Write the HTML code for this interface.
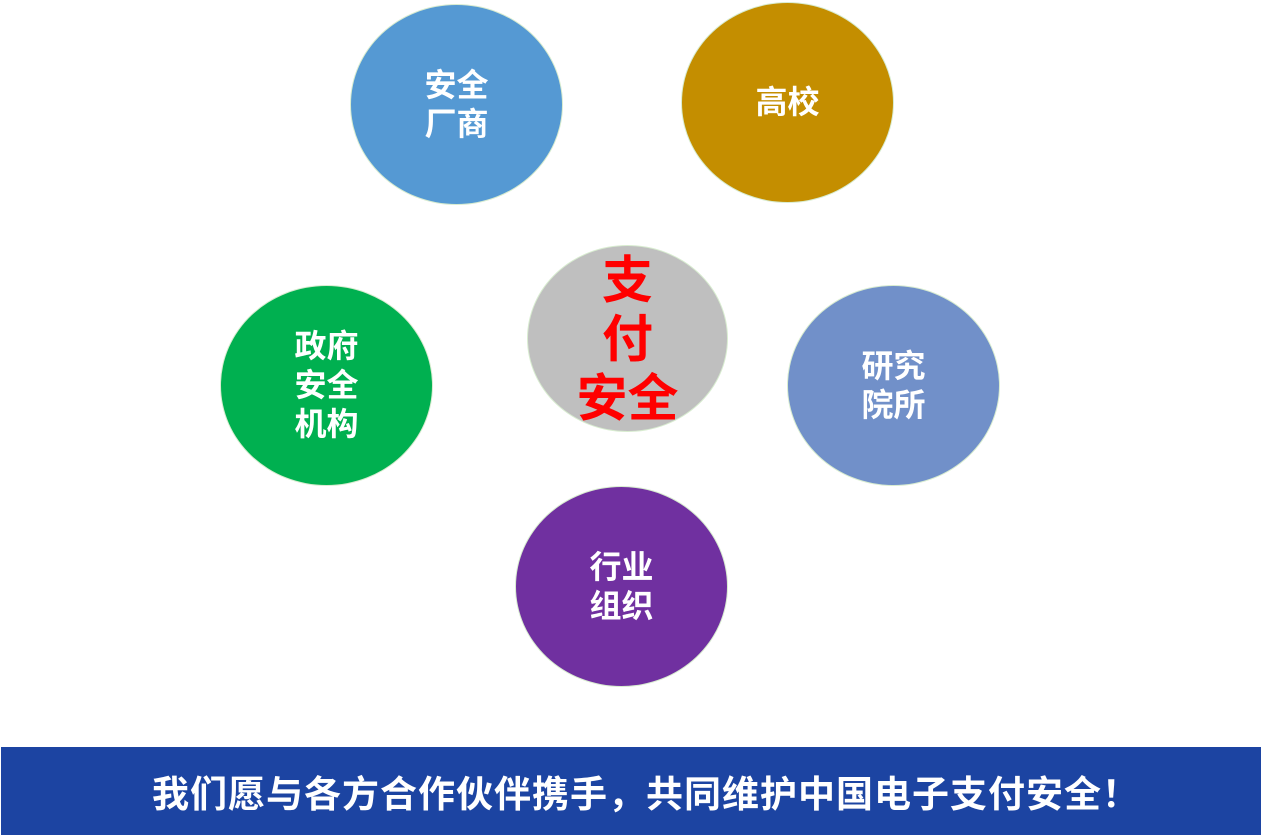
<!DOCTYPE html>
<html><head><meta charset="utf-8"><style>
body{margin:0;width:1261px;height:836px;background:#fff;position:relative;overflow:hidden;font-family:"Liberation Sans","Noto Sans CJK SC",sans-serif;}
.c{position:absolute;border-radius:50%;border:1.5px solid #d8ecd0;box-sizing:border-box;display:flex;align-items:center;justify-content:center;text-align:center;color:#fff;font-weight:bold;font-size:32px;line-height:39px;}
#banner{position:absolute;left:1px;top:747px;width:1260px;height:88px;background:#1c44a2;color:#fff;font-weight:bold;font-size:37px;letter-spacing:1px;display:flex;align-items:center;justify-content:center;padding-left:30px;box-sizing:border-box;}
</style></head><body>
<div class="c" style="left:350px;top:4px;width:213px;height:201px;background:#5599d3;"><span>安全<br>厂商</span></div>
<div class="c" style="left:681px;top:2px;width:213px;height:201px;background:#c48e00;"><span>高校</span></div>
<div class="c" style="left:527px;top:245px;width:201px;height:187px;background:#bfbfbf;color:#ff0000;font-size:51px;line-height:59px;"><span style="margin-top:2px">支<br>付<br>安全</span></div>
<div class="c" style="left:220px;top:285px;width:213px;height:201px;background:#00b050;"><span>政府<br>安全<br>机构</span></div>
<div class="c" style="left:787px;top:285px;width:213px;height:201px;background:#7190c9;"><span>研究<br>院所</span></div>
<div class="c" style="left:515px;top:486px;width:213px;height:201px;background:#7030a0;"><span>行业<br>组织</span></div>
<div id="banner">我们愿与各方合作伙伴携手，共同维护中国电子支付安全！</div>
</body></html>
